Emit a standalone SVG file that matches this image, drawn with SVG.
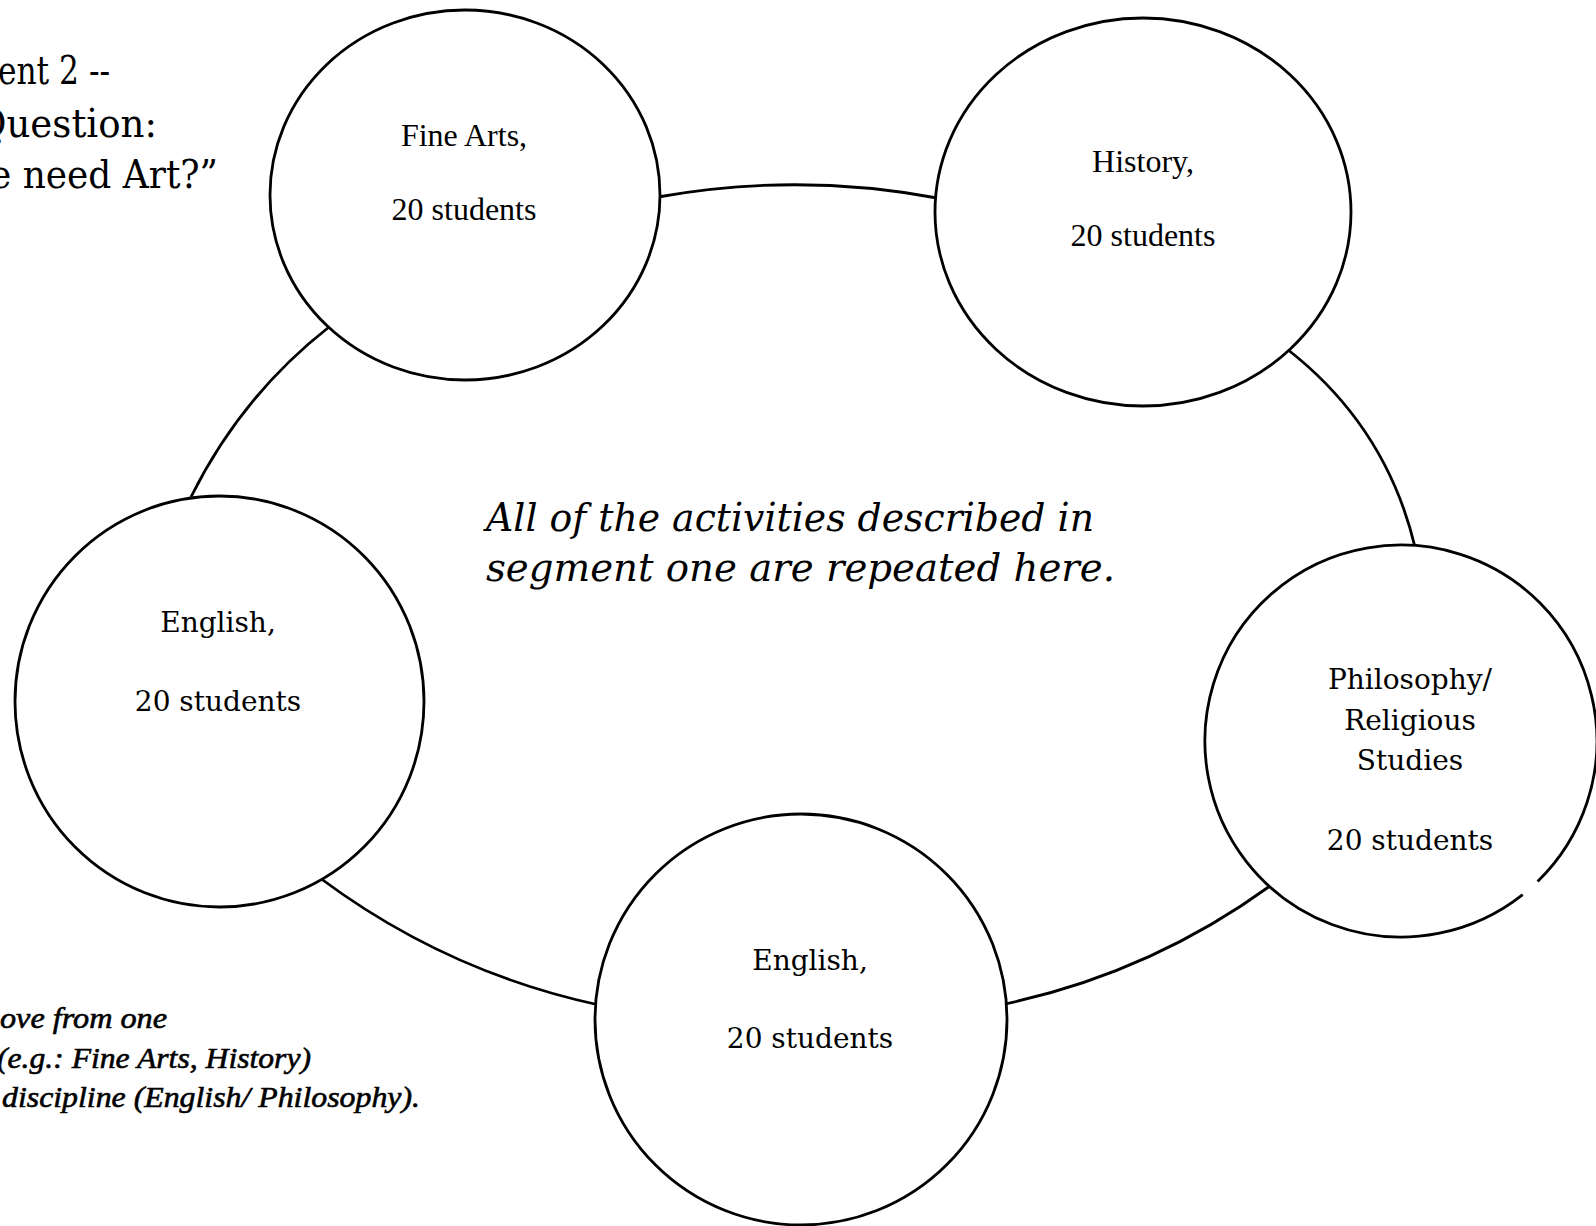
<svg xmlns="http://www.w3.org/2000/svg" width="1596" height="1226" viewBox="0 0 1596 1226">
<style>
.ln{fill:none;stroke:#000;stroke-width:2.8}
.nd{fill:#fff;stroke:#000;stroke-width:2.8}
.tm{font-family:"Liberation Serif","Times New Roman",serif;font-size:32px;fill:#000;text-anchor:middle}
.sl{font-family:"DejaVu Serif",serif;font-size:28px;fill:#000;text-anchor:middle}
.ttl{font-family:"DejaVu Serif",serif;font-size:40px;fill:#000}
.cen{font-family:"DejaVu Serif",serif;font-style:italic;font-size:40px;fill:#000}
.note{font-family:"Liberation Serif","Times New Roman",serif;font-style:italic;font-size:30px;fill:#000;stroke:#000;stroke-width:0.6}
</style>
<rect width="1596" height="1226" fill="#fff"/>
<g id="connectors">
<path class="ln" d="M 658 197 Q 798 172 937 198"/>
<path class="ln" d="M 1287 349 Q 1386 426 1415 547"/>
<path class="ln" d="M 1270 886 Q 1150 973 1005 1004"/>
<path class="ln" d="M 320 878 Q 446 972 599 1005"/>
<path class="ln" d="M 191 497 Q 241 396 329 327"/>
</g>
<g id="title">
<text class="ttl" x="-2" y="84" textLength="112" lengthAdjust="spacingAndGlyphs">ent 2 --</text>
<text class="ttl" x="-24" y="137" textLength="181" lengthAdjust="spacingAndGlyphs">Question:</text>
<text class="ttl" x="-10" y="188" textLength="228" lengthAdjust="spacingAndGlyphs">e need Art?”</text>
</g>
<g id="node-fine-arts">
<ellipse class="nd" cx="465" cy="195" rx="195" ry="185"/>
<text class="tm" x="464" y="146">Fine Arts,</text>
<text class="tm" x="464" y="220">20 students</text>
</g>
<g id="node-history">
<ellipse class="nd" cx="1143" cy="212" rx="208" ry="194"/>
<text class="tm" x="1143" y="172">History,</text>
<text class="tm" x="1143" y="246">20 students</text>
</g>
<g id="node-english-left">
<ellipse class="nd" cx="219.5" cy="701.5" rx="204.5" ry="205.5"/>
<text class="sl" x="218" y="632">English,</text>
<text class="sl" x="218" y="711">20 students</text>
</g>
<g id="node-philosophy">
<path class="nd" d="M 1537.6 881.5 A 196 196 0 1 0 1522.7 894.6"/>
<text class="sl" x="1410" y="689">Philosophy/</text>
<text class="sl" x="1410" y="730">Religious</text>
<text class="sl" x="1410" y="770">Studies</text>
<text class="sl" x="1410" y="850">20 students</text>
</g>
<g id="node-english-bottom">
<ellipse class="nd" cx="801" cy="1019.5" rx="206" ry="205.5"/>
<text class="sl" x="810" y="970">English,</text>
<text class="sl" x="810" y="1048">20 students</text>
</g>
<g id="center-note">
<text class="cen" x="486" y="531" textLength="608" lengthAdjust="spacingAndGlyphs">All of the activities described in</text>
<text class="cen" x="486" y="581" textLength="629" lengthAdjust="spacingAndGlyphs">segment one are repeated here.</text>
</g>
<g id="bottom-note">
<text class="note" x="0" y="1028" textLength="167" lengthAdjust="spacingAndGlyphs">ove from one</text>
<text class="note" x="-3" y="1068" textLength="314" lengthAdjust="spacingAndGlyphs">(e.g.: Fine Arts, History)</text>
<text class="note" x="2" y="1107" textLength="418" lengthAdjust="spacingAndGlyphs">discipline (English/ Philosophy).</text>
</g>
</svg>
